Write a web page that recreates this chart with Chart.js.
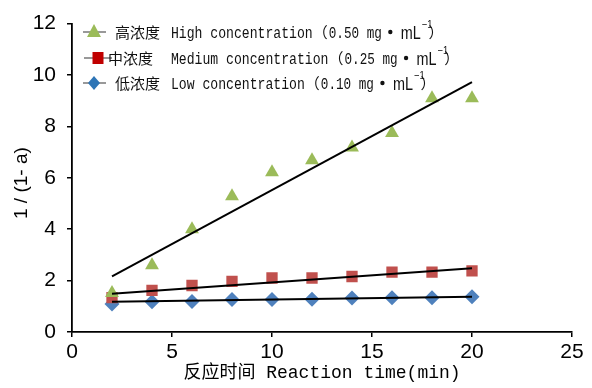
<!DOCTYPE html>
<html><head><meta charset="utf-8">
<script src="https://cdn.jsdelivr.net/npm/chart.js@4.4.1/dist/chart.umd.min.js"></script>
<style>html,body{margin:0;padding:0;background:#fff}#wrap{width:592px;height:388px;position:relative}</style>
</head><body><div id="wrap"><canvas id="c" width="592" height="388"></canvas></div>
<script>
// ---- data ----
const times = [2, 4, 6, 8, 10, 12, 14, 16, 18, 20];
const highValues = [1.52, 2.6, 4.0, 5.28, 6.22, 6.68, 7.18, 7.74, 9.1, 9.1];
const mediumValues = [1.34, 1.62, 1.81, 1.97, 2.10, 2.10, 2.16, 2.33, 2.33, 2.38];
const lowValues = [1.09, 1.18, 1.19, 1.26, 1.26, 1.27, 1.32, 1.33, 1.33, 1.37];
const trendTimes = [2, 20];
const highTrend = [2.16, 9.72];
const mediumTrend = [1.49, 2.48];
const lowTrend = [1.18, 1.37];
const legendCn = ['高浓度', '中浓度', '低浓度'];
const legendEn = ['High concentration', 'Medium concentration', 'Low concentration'];
const legendConc = ['0.50', '0.25', '0.10'];
const xTitle = '反应时间 Reaction time(min)';
const yTitle = '1 / (1- a)  ';

const GREEN = '#9BBB59', RED = '#C0504D', BLUE = '#4F81BD';
const NUM_FONT = "'Liberation Sans', Arial, sans-serif";

function pts(xs, ys) { return xs.map((x, i) => ({x: x, y: ys[i]})); }

function txt(ctx, s, font, x, y, sx) {
  ctx.font = font;
  const w = ctx.measureText(s).width * sx;
  ctx.save();
  ctx.translate(x, y);
  ctx.scale(sx, 1);
  ctx.fillText(s, 0, 0);
  ctx.restore();
  return w;
}

const legendPlugin = {
  id: 'customLegend',
  afterDraw(chart) {
    const ctx = chart.ctx;
    const rows = [
      {y: 32, cx: 115, style: 'triangle', color: GREEN, mx: 94},
      {y: 58, cx: 108, style: 'rect', color: '#C00000', mx: 98},
      {y: 83, cx: 115, style: 'rectRot', color: '#2E75B6', mx: 94}
    ];
    ctx.save();
    ctx.textBaseline = 'alphabetic';
    rows.forEach((r, i) => {
      ctx.strokeStyle = '#555';
      ctx.lineWidth = 1.2;
      ctx.beginPath();
      if (r.style === 'rect') {
        ctx.moveTo(84, r.y); ctx.lineTo(112, r.y);
      } else {
        ctx.moveTo(83, r.y); ctx.lineTo(106, r.y);
      }
      ctx.stroke();
      ctx.fillStyle = r.color;
      ctx.beginPath();
      if (r.style === 'triangle') {
        ctx.moveTo(r.mx, r.y - 8); ctx.lineTo(r.mx + 7, r.y + 5); ctx.lineTo(r.mx - 7, r.y + 5);
      } else if (r.style === 'rect') {
        ctx.rect(r.mx - 5.5, r.y - 6, 11, 12);
      } else {
        ctx.moveTo(r.mx, r.y - 7); ctx.lineTo(r.mx + 6, r.y); ctx.lineTo(r.mx, r.y + 7); ctx.lineTo(r.mx - 6, r.y);
      }
      ctx.closePath();
      ctx.fill();
      ctx.fillStyle = '#111';
      const base = r.y + 6;
      txt(ctx, legendCn[i], "15px 'Noto Sans CJK SC'", r.cx, base, 1);
      let x = 171;
      x += txt(ctx, legendEn[i], "16px 'Liberation Mono'", x, base, 0.82);
      x += txt(ctx, '（', "15px 'Noto Sans CJK SC'", x, base, 1) + 1;
      x += txt(ctx, legendConc[i] + ' mg', "16px 'Liberation Mono'", x, base, 0.79) + 6;
      ctx.beginPath();
      ctx.arc(x + 2.5, r.y, 2.2, 0, Math.PI * 2);
      ctx.fill();
      x += 13;
      x += txt(ctx, 'mL', "18px " + NUM_FONT, x, base + 1, 0.8) + 1;
      x += txt(ctx, '−1', "11px " + NUM_FONT, x, base - 10, 0.85);
      txt(ctx, '）', "15px 'Noto Sans CJK SC'", x - 4, base, 1);
    });
    ctx.restore();
  }
};

function makeChart() {
  new Chart(document.getElementById('c'), {
    type: 'scatter',
    data: {
      datasets: [
        {label: 'highTrend', data: pts(trendTimes, highTrend), showLine: true, borderColor: '#000', borderWidth: 2, pointRadius: 0, order: 0},
        {label: 'mediumTrend', data: pts(trendTimes, mediumTrend), showLine: true, borderColor: '#000', borderWidth: 2, pointRadius: 0, order: 0},
        {label: 'lowTrend', data: pts(trendTimes, lowTrend), showLine: true, borderColor: '#000', borderWidth: 2, pointRadius: 0, order: 0},
        {label: '高浓度 High concentration', data: pts(times, highValues), pointStyle: 'triangle', pointRadius: 8, backgroundColor: GREEN, borderColor: GREEN, borderWidth: 0, order: 1},
        {label: '中浓度 Medium concentration', data: pts(times, mediumValues), pointStyle: 'rect', pointRadius: 8, backgroundColor: RED, borderColor: RED, borderWidth: 0, order: 1},
        {label: '低浓度 Low concentration', data: pts(times, lowValues), pointStyle: 'rectRot', pointRadius: 7.5, backgroundColor: BLUE, borderColor: BLUE, borderWidth: 0, order: 1}
      ]
    },
    options: {
      responsive: false,
      animation: false,
      events: [],
      layout: {padding: {left: 0, right: 20, top: 16, bottom: 0}},
      plugins: {legend: {display: false}, tooltip: {enabled: false}},
      scales: {
        x: {
          type: 'linear', min: 0, max: 25,
          ticks: {stepSize: 5, color: '#000', font: {family: NUM_FONT, size: 21}, padding: 3},
          grid: {drawOnChartArea: false, tickLength: 5, color: '#000', lineWidth: 1.5},
          border: {color: '#000', width: 1.8},
          title: {display: true, text: xTitle, color: '#000', font: {family: "'Liberation Mono', 'Noto Sans CJK SC', monospace", size: 18}, padding: {top: 0, bottom: 4}},
          afterFit(s) { s.height = 56; }
        },
        y: {
          min: 0, max: 12,
          ticks: {stepSize: 2, color: '#000', font: {family: NUM_FONT, size: 21}, padding: 11},
          grid: {drawOnChartArea: false, tickLength: 5, color: '#000', lineWidth: 1.5},
          border: {color: '#000', width: 1.8},
          title: {display: true, text: yTitle, color: '#000', font: {family: "'Liberation Sans', Arial, sans-serif", size: 19}, padding: {top: 10, bottom: 0}},
          afterFit(s) { s.width = 72; }
        }
      }
    },
    plugins: [legendPlugin]
  });
}

const fontLoads = ["15px 'Noto Sans CJK SC'", "16px 'Liberation Mono'", "18px 'Liberation Sans'"].map(f => document.fonts.load(f, '高浓度 Ab1'));
Promise.all(fontLoads).then(makeChart, makeChart);
</script>
</body></html>
